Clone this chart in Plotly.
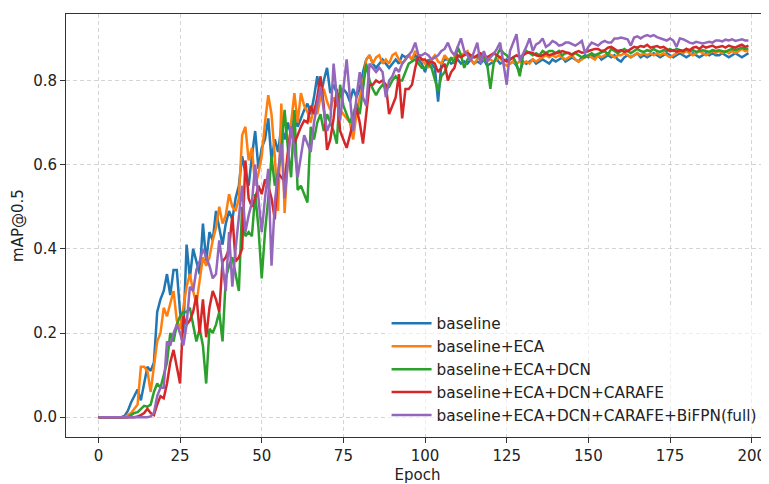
import plotly.graph_objects as go

epochs = list(range(200))

baseline = [
0,0,0,0,0,0,0,0,0.003,0.015,
0.035,0.05,0.066,0.04,0.083,0.12,0.11,0.13,0.25,0.28,
0.30,0.34,0.29,0.35,0.35,0.25,0.20,0.41,0.33,0.40,
0.37,0.34,0.46,0.37,0.44,0.42,0.49,0.45,0.41,0.46,
0.49,0.47,0.52,0.55,0.62,0.58,0.55,0.62,0.68,0.59,
0.64,0.66,0.71,0.61,0.66,0.63,0.69,0.66,0.70,0.67,
0.72,0.69,0.71,0.73,0.745,0.72,0.76,0.81,0.76,0.80,
0.83,0.77,0.79,0.77,0.76,0.78,0.77,0.75,0.78,0.76,
0.78,0.82,0.85,0.86,0.84,0.83,0.84,0.85,0.84,0.83,
0.84,0.85,0.84,0.86,0.855,0.86,0.85,0.86,0.85,0.84,
0.82,0.85,0.84,0.83,0.75,0.84,0.85,0.85,0.84,0.845,
0.85,0.84,0.845,0.84,0.85,0.84,0.845,0.84,0.85,0.835,
0.84,0.845,0.85,0.84,0.845,0.85,0.84,0.845,0.835,0.82,
0.845,0.84,0.845,0.85,0.84,0.845,0.85,0.845,0.84,0.85,
0.845,0.85,0.855,0.845,0.85,0.855,0.85,0.845,0.855,0.86,
0.855,0.86,0.855,0.86,0.85,0.855,0.86,0.855,0.86,0.85,
0.845,0.855,0.86,0.855,0.86,0.865,0.855,0.86,0.855,0.86,
0.865,0.86,0.855,0.86,0.865,0.86,0.855,0.86,0.865,0.86,
0.855,0.86,0.865,0.86,0.855,0.86,0.865,0.86,0.865,0.86,
0.86,0.865,0.86,0.855,0.86,0.865,0.86,0.855,0.86,0.865]

eca = [
0,0,0,0,0,0,0,0,0,0.005,
0.01,0.02,0.03,0.12,0.12,0.11,0.06,0.12,0.18,0.20,
0.26,0.24,0.27,0.30,0.23,0.21,0.26,0.31,0.34,0.30,
0.27,0.33,0.38,0.36,0.38,0.42,0.45,0.50,0.46,0.48,
0.53,0.50,0.49,0.52,0.67,0.69,0.61,0.64,0.55,0.58,
0.62,0.70,0.765,0.72,0.62,0.49,0.745,0.485,0.62,0.70,
0.77,0.70,0.77,0.74,0.725,0.70,0.74,0.72,0.76,0.78,
0.75,0.73,0.76,0.74,0.73,0.72,0.71,0.70,0.66,0.72,
0.76,0.79,0.85,0.86,0.84,0.855,0.86,0.84,0.85,0.84,
0.86,0.865,0.85,0.84,0.85,0.86,0.85,0.87,0.86,0.85,
0.84,0.83,0.85,0.86,0.845,0.84,0.86,0.85,0.85,0.855,
0.855,0.86,0.865,0.87,0.85,0.84,0.85,0.855,0.85,0.845,
0.85,0.845,0.85,0.855,0.84,0.835,0.84,0.845,0.84,0.845,
0.84,0.845,0.84,0.85,0.845,0.85,0.855,0.86,0.855,0.86,
0.855,0.86,0.855,0.85,0.855,0.86,0.85,0.845,0.85,0.855,
0.86,0.855,0.85,0.86,0.855,0.86,0.865,0.86,0.855,0.86,
0.86,0.865,0.86,0.855,0.86,0.865,0.86,0.865,0.86,0.865,
0.86,0.865,0.86,0.865,0.86,0.855,0.86,0.865,0.87,0.865,
0.87,0.865,0.86,0.865,0.87,0.865,0.86,0.865,0.87,0.865,
0.87,0.865,0.87,0.865,0.87,0.865,0.87,0.875,0.87,0.87]

eca_dcn = [
0,0,0,0,0,0,0,0,0,0,
0.005,0.01,0.012,0.02,0.027,0.025,0.03,0.06,0.08,0.07,
0.10,0.13,0.20,0.18,0.22,0.24,0.25,0.25,0.26,0.22,
0.18,0.21,0.17,0.08,0.21,0.20,0.22,0.25,0.18,0.33,
0.36,0.38,0.34,0.30,0.50,0.43,0.44,0.43,0.53,0.45,
0.33,0.44,0.52,0.62,0.55,0.58,0.63,0.73,0.64,0.57,
0.73,0.54,0.55,0.53,0.51,0.69,0.66,0.70,0.72,0.68,
0.72,0.70,0.68,0.65,0.79,0.74,0.72,0.70,0.72,0.745,
0.72,0.78,0.84,0.80,0.78,0.765,0.78,0.79,0.78,0.785,
0.80,0.81,0.80,0.80,0.82,0.84,0.845,0.85,0.84,0.83,
0.83,0.84,0.83,0.80,0.775,0.81,0.82,0.84,0.855,0.84,
0.88,0.86,0.83,0.85,0.86,0.855,0.855,0.86,0.855,0.84,
0.78,0.84,0.86,0.875,0.865,0.86,0.85,0.855,0.84,0.81,
0.86,0.87,0.865,0.86,0.865,0.86,0.87,0.865,0.87,0.87,
0.865,0.87,0.86,0.865,0.866,0.86,0.865,0.86,0.855,0.855,
0.86,0.865,0.86,0.863,0.866,0.87,0.862,0.875,0.87,0.865,
0.87,0.875,0.87,0.865,0.87,0.875,0.87,0.868,0.872,0.87,
0.875,0.87,0.868,0.872,0.87,0.875,0.87,0.875,0.872,0.87,
0.875,0.87,0.872,0.868,0.87,0.872,0.87,0.868,0.872,0.87,
0.872,0.87,0.868,0.872,0.875,0.872,0.875,0.878,0.875,0.876]

eca_dcn_carafe = [
0,0,0,0,0,0,0,0,0,0,
0,0,0.002,0.005,0.01,0.02,0.01,0.005,0.03,0.05,
0.045,0.08,0.13,0.16,0.12,0.08,0.24,0.22,0.23,0.25,
0.29,0.20,0.28,0.19,0.26,0.30,0.28,0.25,0.37,0.38,
0.40,0.48,0.37,0.38,0.40,0.61,0.52,0.50,0.52,0.55,
0.53,0.565,0.55,0.52,0.47,0.58,0.57,0.56,0.63,0.69,
0.65,0.67,0.69,0.705,0.70,0.74,0.72,0.76,0.81,0.74,
0.635,0.66,0.71,0.78,0.68,0.66,0.64,0.67,0.70,0.735,
0.70,0.65,0.72,0.79,0.79,0.80,0.795,0.80,0.79,0.72,
0.74,0.76,0.815,0.71,0.78,0.78,0.79,0.83,0.86,0.85,
0.85,0.84,0.845,0.84,0.82,0.83,0.84,0.80,0.82,0.83,
0.86,0.855,0.86,0.865,0.86,0.855,0.86,0.865,0.86,0.855,
0.86,0.865,0.86,0.855,0.85,0.845,0.85,0.855,0.86,0.855,
0.86,0.865,0.867,0.865,0.86,0.858,0.86,0.865,0.86,0.862,
0.865,0.867,0.87,0.867,0.865,0.862,0.867,0.87,0.866,0.867,
0.87,0.872,0.875,0.875,0.87,0.872,0.878,0.88,0.875,0.87,
0.872,0.868,0.87,0.875,0.88,0.878,0.882,0.88,0.885,0.878,
0.88,0.882,0.878,0.88,0.875,0.87,0.872,0.868,0.872,0.87,
0.875,0.872,0.878,0.88,0.875,0.882,0.878,0.88,0.883,0.878,
0.88,0.882,0.878,0.883,0.88,0.878,0.882,0.885,0.88,0.883]

full = [
0,0,0,0,0,0,0,0,0,0,
0,0,0,0,0,0,0.002,0.01,0.05,0.07,
0.07,0.18,0.17,0.20,0.22,0.20,0.17,0.22,0.31,0.30,
0.35,0.37,0.40,0.38,0.36,0.33,0.34,0.42,0.36,0.30,
0.44,0.31,0.40,0.47,0.55,0.44,0.48,0.51,0.60,0.52,
0.44,0.52,0.59,0.36,0.51,0.58,0.65,0.52,0.60,0.69,
0.64,0.57,0.62,0.67,0.65,0.63,0.70,0.74,0.785,0.73,
0.68,0.70,0.84,0.76,0.705,0.78,0.85,0.76,0.68,0.76,
0.82,0.76,0.74,0.84,0.83,0.82,0.83,0.82,0.76,0.80,
0.81,0.83,0.82,0.84,0.85,0.86,0.87,0.89,0.86,0.86,
0.865,0.86,0.85,0.855,0.86,0.87,0.875,0.89,0.87,0.86,
0.88,0.90,0.87,0.86,0.847,0.87,0.89,0.84,0.87,0.847,
0.855,0.863,0.875,0.89,0.84,0.79,0.87,0.89,0.91,0.847,
0.863,0.88,0.90,0.87,0.886,0.89,0.90,0.88,0.885,0.894,
0.89,0.883,0.885,0.89,0.89,0.886,0.883,0.888,0.894,0.865,
0.88,0.89,0.886,0.883,0.89,0.894,0.89,0.89,0.90,0.90,
0.902,0.90,0.898,0.883,0.902,0.905,0.90,0.905,0.908,0.905,
0.908,0.903,0.90,0.898,0.895,0.90,0.895,0.88,0.90,0.898,
0.893,0.89,0.888,0.892,0.89,0.888,0.89,0.892,0.89,0.895,
0.895,0.893,0.897,0.895,0.898,0.894,0.896,0.898,0.895,0.895]

names = ["baseline", "baseline+ECA", "baseline+ECA+DCN",
         "baseline+ECA+DCN+CARAFE", "baseline+ECA+DCN+CARAFE+BiFPN(full)"]
series = [baseline, eca, eca_dcn, eca_dcn_carafe, full]
colors = ["#1f77b4", "#ff7f0e", "#2ca02c", "#d62728", "#9467bd"]

x_ticks = [0, 25, 50, 75, 100, 125, 150, 175, 200]
y_ticks = [0.0, 0.2, 0.4, 0.6, 0.8]

fig = go.Figure()
for name, vals, col in zip(names, series, colors):
    fig.add_trace(go.Scatter(x=epochs, y=vals, mode="lines", name=name,
                             line=dict(color=col, width=2.5)))

font = "DejaVu Sans"
grid_col = "rgba(176,176,176,0.55)"
# the page body has an 8px default margin, so the figure is sized to fit the 769x484 window
fig.update_layout(
    width=761, height=476,
    margin=dict(l=58, r=0, t=6, b=47, autoexpand=False),
    paper_bgcolor="white", plot_bgcolor="white",
    font=dict(family=font, size=15, color="#222"),
    showlegend=True,
    legend=dict(x=0.456, y=0.012, xanchor="left", yanchor="bottom",
                bgcolor="rgba(255,255,255,0.6)", borderwidth=0,
                font=dict(family=font, size=15.3, color="#222"),
                tracegroupgap=0, itemwidth=40),
)
fig.update_xaxes(
    range=[-9.92, 205.3], tickmode="array", tickvals=x_ticks,
    ticktext=[str(t) for t in x_ticks], automargin=False,
    showline=True, linecolor="#333", linewidth=1, mirror=True,
    ticks="outside", ticklen=5, tickcolor="#333",
    showgrid=True, gridcolor=grid_col, griddash="4px,3px", gridwidth=0.8,
    zeroline=False,
    title=dict(text="Epoch", font=dict(family=font, size=15, color="#222"), standoff=6),
    tickfont=dict(family=font, size=15, color="#222"),
)
fig.update_yaxes(
    range=[-0.047, 0.958], tickmode="array", tickvals=y_ticks,
    ticktext=[f"{t:.1f}" for t in y_ticks], automargin=False,
    showline=True, linecolor="#333", linewidth=1, mirror=False,
    ticks="outside", ticklen=5, tickcolor="#333",
    showgrid=True, gridcolor=grid_col, griddash="4px,3px", gridwidth=0.8,
    zeroline=False,
    title=dict(text="mAP@0.5", font=dict(family=font, size=15, color="#222"), standoff=5),
    tickfont=dict(family=font, size=15, color="#222"),
)

fig.write_html("out.html")
